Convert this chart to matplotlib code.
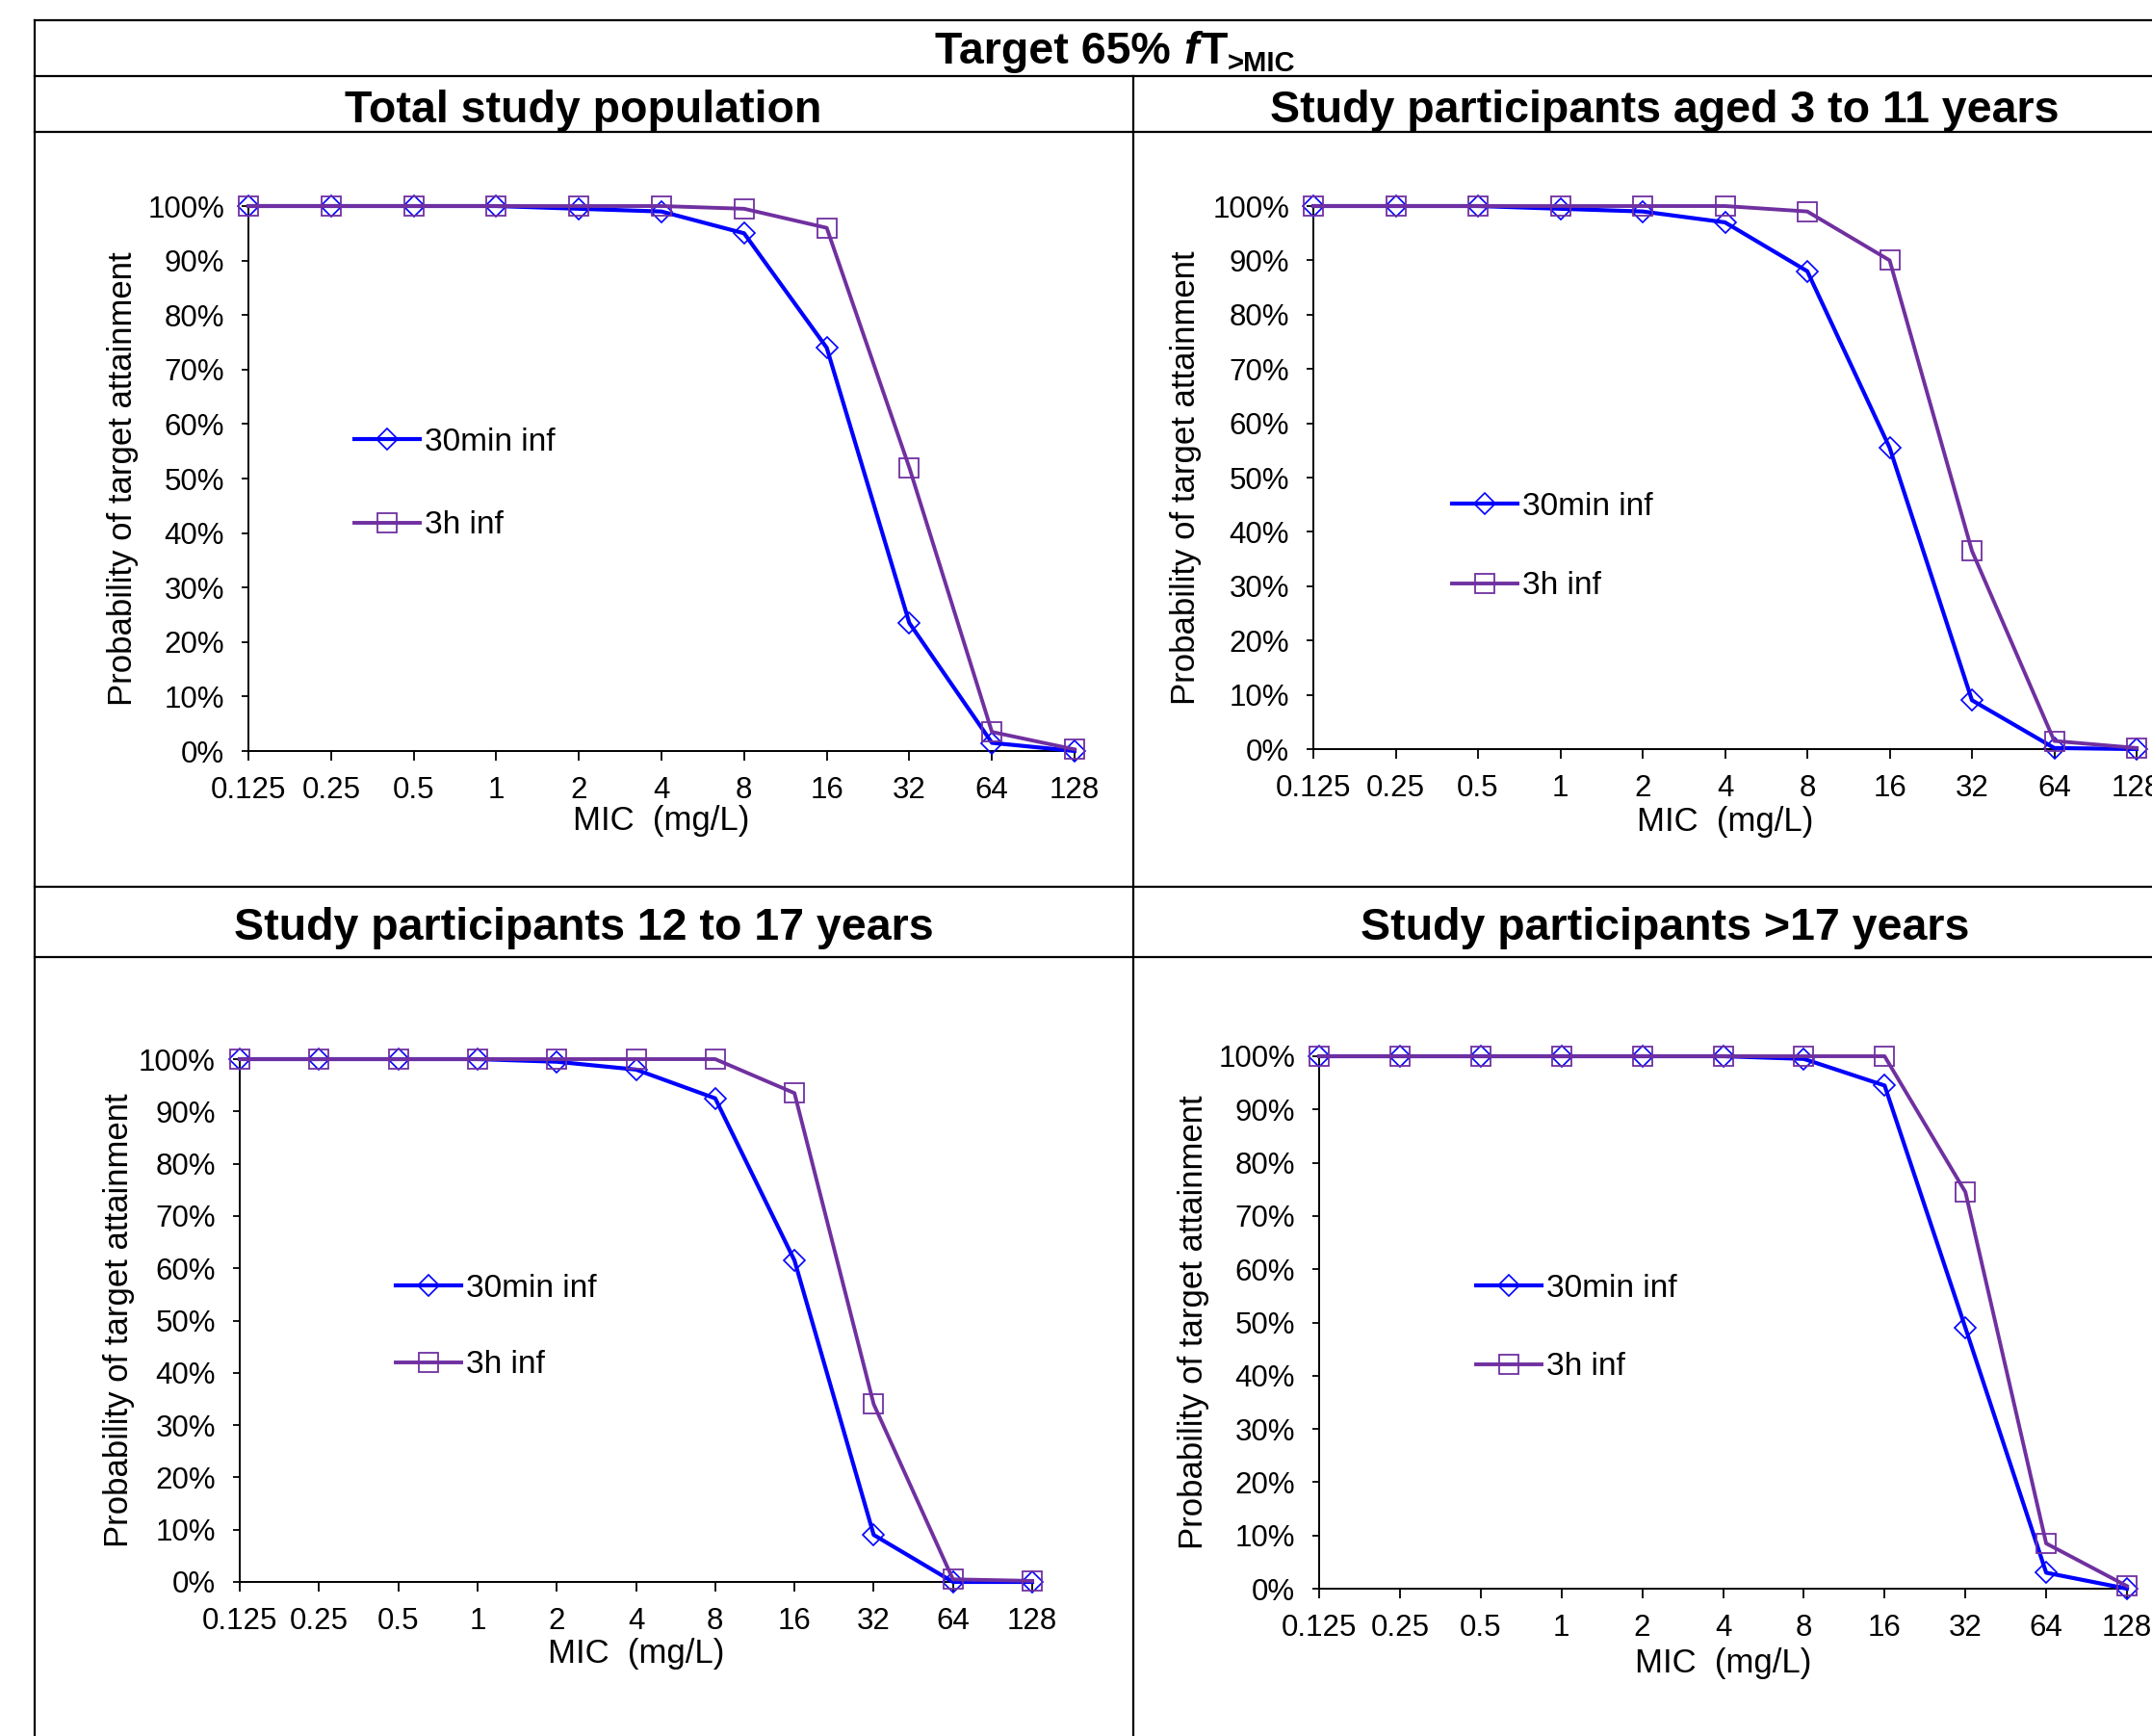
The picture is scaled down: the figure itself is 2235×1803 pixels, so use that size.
import matplotlib
matplotlib.use("Agg")
import matplotlib.pyplot as plt
from matplotlib.lines import Line2D
from matplotlib.ticker import PercentFormatter

plt.rcParams["font.family"] = ["Liberation Sans", "DejaVu Sans"]

# =========================
# DATA
# =========================
mic_labels = ["0.125", "0.25", "0.5", "1", "2", "4", "8", "16", "32", "64", "128"]
series_names = ["30min inf", "3h inf"]

panel_titles = [
    "Total study population",
    "Study participants aged 3 to 11 years",
    "Study participants 12 to 17 years",
    "Study participants >17 years",
]

# probability of target attainment (%)
total_30min = [100, 100, 100, 100, 99.5, 99, 95, 74, 23.5, 1.5, 0]
total_3h = [100, 100, 100, 100, 100, 100, 99.5, 96, 52, 3.5, 0.3]

age3_11_30min = [100, 100, 100, 99.5, 99, 97, 88, 55.5, 9, 0.2, 0]
age3_11_3h = [100, 100, 100, 100, 100, 100, 99, 90, 36.5, 1.5, 0.2]

age12_17_30min = [100, 100, 100, 100, 99.5, 98, 92.5, 61.5, 9, 0, 0]
age12_17_3h = [100, 100, 100, 100, 100, 100, 100, 93.5, 34, 0.5, 0.2]

age17plus_30min = [100, 100, 100, 100, 100, 100, 99.5, 94.5, 49, 3, 0]
age17plus_3h = [100, 100, 100, 100, 100, 100, 100, 100, 74.5, 8.5, 0.5]

panel_data = [
    (total_30min, total_3h),
    (age3_11_30min, age3_11_3h),
    (age12_17_30min, age12_17_3h),
    (age17plus_30min, age17plus_3h),
]

# =========================
# LAYOUT (pixels in a 2235 x 1803 canvas)
# =========================
W, H = 2235, 1803


def fx(px):
    return px / W


def fy(py):
    return 1 - py / H


# left, right, top(100%), bottom(0%), ylabel x, xlabel y, legend x, legend row1 y, legend row2 y
layout = [
    (258, 1116, 214, 780, 127, 852, 368, 459, 546),
    (1364, 2219, 214, 778, 1232, 853, 1508, 526, 609),
    (249, 1072, 1100, 1643, 124, 1717, 411, 1338, 1418),
    (1370, 2209, 1097, 1650, 1239, 1727, 1533, 1338, 1420),
]
header_pos = [(606, 127), (1729, 127), (606, 976), (1729, 976)]

COL_30 = "#0000FF"
COL_3H = "#7030A0"
FS_LEG = 24
FS_TICK = 22.5

fig = plt.figure(figsize=(W / 100, H / 100), dpi=100)

# =========================
# TABLE GRID
# =========================
def hline(y, x0=36, x1=2300, lw=1.6):
    fig.add_artist(Line2D([fx(x0), fx(x1)], [fy(y), fy(y)], transform=fig.transFigure,
                          color="black", lw=lw))


def vline(x, y0, y1=1810, lw=1.6):
    fig.add_artist(Line2D([fx(x), fx(x)], [fy(y0), fy(y1)], transform=fig.transFigure,
                          color="black", lw=lw))


for y in [21, 79, 137, 921, 994]:
    hline(y)
vline(36, 21)
vline(1177, 79)

# =========================
# TITLE: Target 65% fT>MIC
# =========================
renderer = fig.canvas.get_renderer()
base_y = 66
t1 = fig.text(0, fy(base_y), "Target 65%", fontsize=33.5, fontweight="bold", va="baseline")
t2 = fig.text(0, fy(base_y), "f", fontsize=33.5, fontweight="bold", fontstyle="italic", va="baseline")
t3 = fig.text(0, fy(base_y), "T", fontsize=33.5, fontweight="bold", va="baseline")
t4 = fig.text(0, fy(base_y + 8), ">MIC", fontsize=21, fontweight="bold", va="baseline")
space = 0.278 * 33.5 * 100 / 72
widths = [t.get_window_extent(renderer).width for t in (t1, t2, t3, t4)]
total = widths[0] + space + widths[1] + 2 + widths[2] + widths[3]
x = 1158.5 - total / 2
t1.set_x(fx(x))
x += widths[0] + space
t2.set_x(fx(x))
x += widths[1] + 2
t3.set_x(fx(x))
x += widths[2]
t4.set_x(fx(x))

for title, (hx, hy) in zip(panel_titles, header_pos):
    fig.text(fx(hx), fy(hy), title, fontsize=33.5, fontweight="bold", ha="center", va="baseline")

# =========================
# PANELS
# =========================
xpos = list(range(len(mic_labels)))

for (d30, d3h), (l, r, t, b, ylx, xly, lgx, lg1, lg2) in zip(panel_data, layout):
    ax = fig.add_axes([fx(l), fy(b), (r - l) / W, (b - t) / H])
    ax.plot(xpos, d30, color=COL_30, lw=3.0, marker="D", markersize=11.5,
            markerfacecolor="none", markeredgecolor=COL_30, markeredgewidth=1.2,
            label=series_names[0], clip_on=False, zorder=3)
    ax.plot(xpos, d3h, color=COL_3H, lw=2.8, marker="s", markersize=14,
            markerfacecolor="none", markeredgecolor=COL_3H, markeredgewidth=1.3,
            label=series_names[1], clip_on=False, zorder=4)

    ax.set_xlim(0, len(mic_labels) - 1)
    ax.set_ylim(0, 100)
    ax.set_xticks(xpos)
    ax.set_xticklabels(mic_labels)
    ax.set_yticks(range(0, 101, 10))
    ax.yaxis.set_major_formatter(PercentFormatter(xmax=100, decimals=0))

    for side in ["top", "right"]:
        ax.spines[side].set_visible(False)
    for side in ["left", "bottom"]:
        ax.spines[side].set_linewidth(1.4)
        ax.spines[side].set_color("black")

    ax.tick_params(axis="x", direction="out", length=7, width=1.3, pad=12, labelsize=FS_TICK)
    ax.tick_params(axis="y", direction="out", length=5, width=1.3, pad=13, labelsize=FS_TICK)

    ax.set_ylabel("Probability of target attainment", fontsize=25)
    ax.yaxis.label.set_va("center")
    ax.yaxis.set_label_coords((ylx - l) / (r - l), 0.5)

    ax.set_xlabel("MIC  (mg/L)", fontsize=25)
    ax.xaxis.label.set_va("center")
    ax.xaxis.set_label_coords(0.5, -(xly - b) / (b - t))

    fs_px = FS_LEG * 100 / 72
    spacing = (lg2 - lg1 - 0.94 * fs_px) / fs_px
    ax.legend(loc="center left", bbox_to_anchor=(fx(lgx), fy((lg1 + lg2) / 2)),
              bbox_transform=fig.transFigure, frameon=False, borderpad=0,
              borderaxespad=0, handlelength=2.05, handletextpad=0.15,
              labelspacing=spacing, fontsize=FS_LEG)

fig.savefig("out.png", dpi=100)
